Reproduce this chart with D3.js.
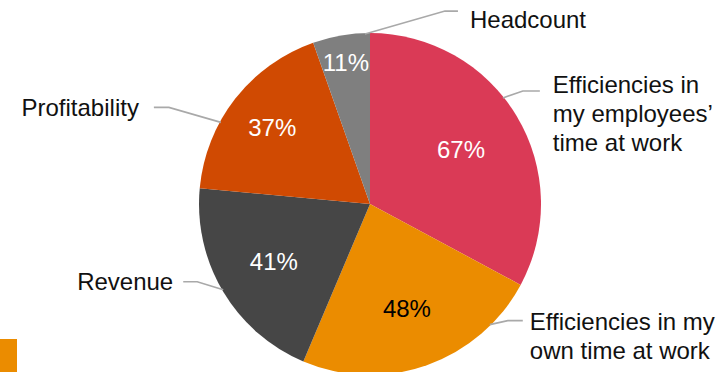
<!DOCTYPE html>
<html>
<head>
<meta charset="utf-8">
<script src="https://cdn.jsdelivr.net/npm/d3@7/dist/d3.min.js"></script>
<style>
  html, body { margin: 0; padding: 0; background: #fff; }
  svg { display: block; }
  text { font-family: "Liberation Sans", Arial, Helvetica, sans-serif; }
</style>
</head>
<body>
<svg id="chart" width="718" height="372"></svg>
<script>
// Survey responses, in clockwise order from 12 o'clock
const categories = [
  ["Efficiencies in", "my employees’", "time at work"],
  ["Efficiencies in my", "own time at work"],
  ["Revenue"],
  ["Profitability"],
  ["Headcount"]
];
const values = [67, 48, 41, 37, 11];
const sliceColors = ["#DA3A56", "#EB8C00", "#464646", "#D04A02", "#7F7F7F"];
const valueTextColors = ["#fff", "#000", "#fff", "#fff", "#fff"];

// Layout: where each leader touches the rim (degrees clockwise from top),
// the leader's bend and run, and where the label text sits.
const labelLayout = [
  { angle: 51.4,  bend: [20, -7],   run: 17,  gap: 13, anchor: "start", baseline: 93,  lineH: 29 },
  { angle: 135.2, bend: [18, -4],   run: 15,  gap: 7,  anchor: "start", baseline: 330, lineH: 28.5 },
  { angle: 239.7, bend: [-26, -8],  run: -14, gap: -10, anchor: "end", baseline: 289.5, lineH: 29 },
  { angle: 298.7, bend: [-52, -15], run: -15, gap: -15, anchor: "end", baseline: 115.5, lineH: 29 },
  { angle: 358.3, bend: [80, -23],  run: 13,  gap: 12, anchor: "start", baseline: 28,  lineH: 29 }
];
const valueLabelRadius = [106, 111, 112, 124, 143];

const width = 718, height = 372;
const cx = 370, cy = 204, radius = 171;
const fontSize = 24;

const svg = d3.select("#chart");

// small orange marker in the lower-left corner
svg.append("rect")
  .attr("x", 0).attr("y", 339)
  .attr("width", 17).attr("height", height - 339)
  .attr("fill", "#EB8C00");

const pie = d3.pie().sort(null).startAngle(0).endAngle(2 * Math.PI);
const arcs = pie(values);
const arc = d3.arc().innerRadius(0).outerRadius(radius);

const g = svg.append("g").attr("transform", `translate(${cx},${cy})`);

g.selectAll("path.slice")
  .data(arcs)
  .join("path")
  .attr("class", "slice")
  .attr("d", arc)
  .attr("fill", (d, i) => sliceColors[i]);

// percentage labels on the slices
g.selectAll("text.value")
  .data(arcs)
  .join("text")
  .attr("class", "value")
  .attr("transform", (d, i) => {
    const c = d3.arc().innerRadius(valueLabelRadius[i]).outerRadius(valueLabelRadius[i]).centroid(d);
    return `translate(${c[0]},${c[1]})`;
  })
  .attr("text-anchor", "middle")
  .attr("dy", "0.35em")
  .attr("font-size", fontSize)
  .attr("fill", (d, i) => valueTextColors[i])
  .text(d => d.data + "%");

// leader lines and category labels
const polar = (deg, r) => {
  const a = deg * Math.PI / 180;
  return [cx + r * Math.sin(a), cy - r * Math.cos(a)];
};

categories.forEach((lines, i) => {
  const L = labelLayout[i];
  const p0 = polar(L.angle, radius - 1);
  const p1 = [p0[0] + L.bend[0], p0[1] + L.bend[1]];
  const p2 = [p1[0] + L.run, p1[1]];
  svg.append("path")
    .attr("d", d3.line()([p0, p1, p2]))
    .attr("fill", "none")
    .attr("stroke", "#A9A9A9")
    .attr("stroke-width", 1.6);

  const t = svg.append("text")
    .attr("x", p2[0] + L.gap)
    .attr("y", L.baseline)
    .attr("text-anchor", L.anchor)
    .attr("font-size", fontSize)
    .attr("fill", "#111");
  lines.forEach((s, k) => {
    t.append("tspan")
      .attr("x", p2[0] + L.gap)
      .attr("y", L.baseline + k * L.lineH)
      .text(s);
  });
});
</script>
</body>
</html>
